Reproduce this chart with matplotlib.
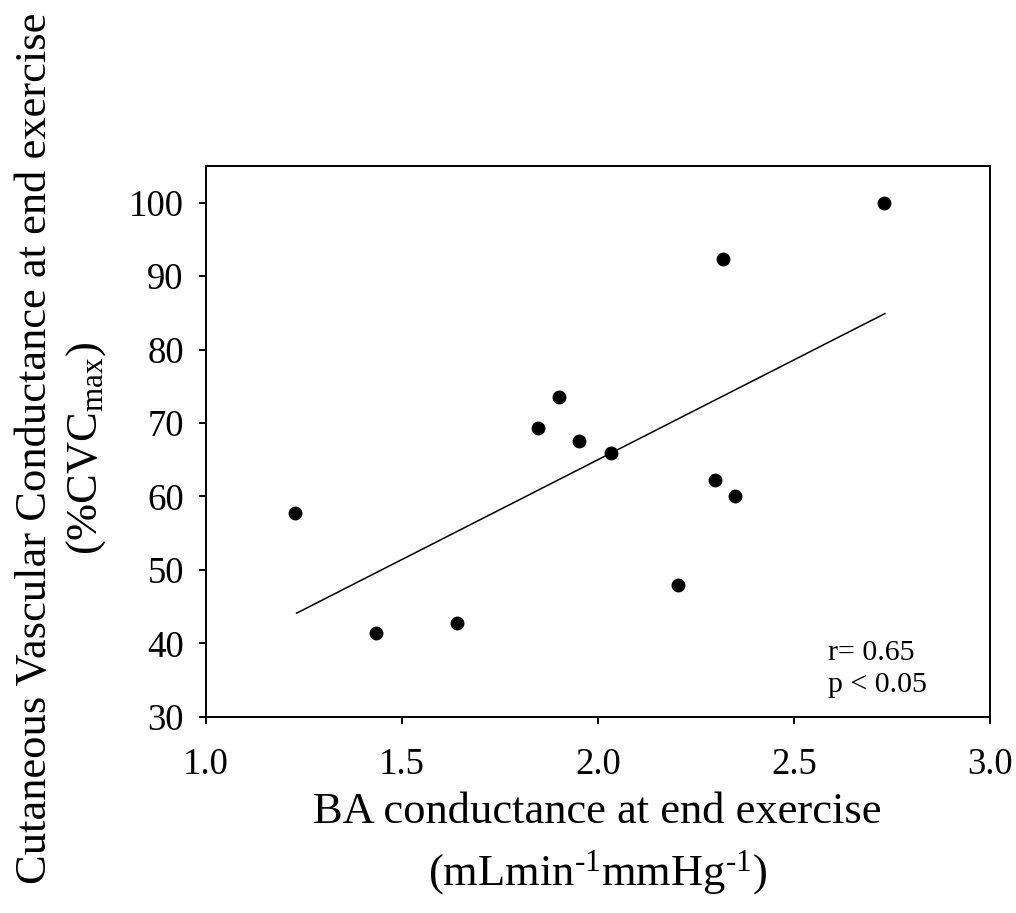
import matplotlib
matplotlib.use("Agg")
import matplotlib.pyplot as plt

plt.rcParams['font.family'] = ['Liberation Serif', 'DejaVu Serif']
plt.rcParams['mathtext.fontset'] = 'custom'
plt.rcParams['mathtext.rm'] = 'Liberation Serif'
plt.rcParams['mathtext.it'] = 'Liberation Serif:italic'

# BA conductance vs cutaneous vascular conductance
ba_conductance = [1.228, 1.434, 1.639, 1.848, 1.901, 1.951, 2.032, 2.203, 2.298, 2.320, 2.349, 2.730]
cvc_percent = [57.7, 41.4, 42.7, 69.3, 73.6, 67.5, 65.9, 48.0, 62.2, 92.4, 60.1, 99.9]

# regression line end points
fit_x = [1.231, 2.732]
fit_y = [44.1, 84.9]

x_ticks = [1.0, 1.5, 2.0, 2.5, 3.0]
y_ticks = [30, 40, 50, 60, 70, 80, 90, 100]

fig = plt.figure(figsize=(10.16, 9.13), dpi=100)
ax = fig.add_axes([0.2028, 0.215, 0.7716, 0.6032])

ax.plot(fit_x, fit_y, color='black', lw=1.1)
ax.plot(ba_conductance, cvc_percent, 'o', color='black', ms=9, mec='black')

ax.set_xlim(1.0, 3.0)
ax.set_ylim(30, 105)
ax.set_xticks(x_ticks)
ax.set_xticklabels(['%.1f' % v for v in x_ticks])
ax.set_yticks(y_ticks)
for s in ax.spines.values():
    s.set_linewidth(1.4)
ax.tick_params(direction='out', length=5, width=1.4, labelsize=26.5)
ax.tick_params(axis='x', pad=17)
ax.tick_params(axis='y', pad=11)

ax.text(0.794, 0.103, 'r= 0.65', transform=ax.transAxes,
        fontsize=21.5, va='baseline', ha='left')
ax.text(0.794, 0.045, 'p < 0.05', transform=ax.transAxes,
        fontsize=21.5, va='baseline', ha='left')

fig.text(0.588, 1 - 812 / 913, 'BA conductance at end exercise',
         fontsize=32, ha='center', va='center')
fig.text(0.588, 1 - 873 / 913, '(mLmin$^{\\text{-1}}$mmHg$^{\\text{-1}}$)',
         fontsize=32, ha='center', va='center')

fig.text(35 / 1016, 1 - 448 / 913, 'Cutaneous Vascular Conductance at end exercise',
         fontsize=32, ha='center', va='center', rotation=90)
fig.text(86 / 1016, 1 - 448 / 913, '(%CVC$_{\\text{max}}$)',
         fontsize=32, ha='center', va='center', rotation=90)

fig.savefig('out.png', dpi=100)
